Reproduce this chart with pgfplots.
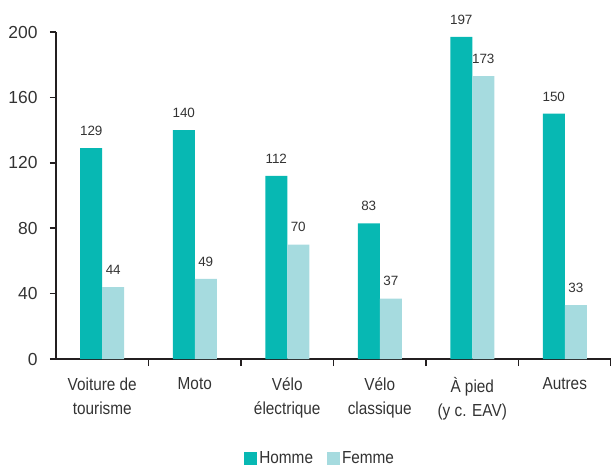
\documentclass[border=0pt]{standalone}
\usepackage{pgfplots}
\pgfplotsset{compat=1.18}
\usetikzlibrary{calc}
\usepackage{fontspec}
\setmainfont{Liberation Sans}[FakeStretch=0.88]
\newfontfamily\numfont{Liberation Sans}
\definecolor{homme}{HTML}{07B8B3}
\definecolor{femme}{HTML}{A6DBDF}
\definecolor{axc}{HTML}{231F20}
\definecolor{txt}{HTML}{333333}
\begin{document}
\begin{tikzpicture}
\begin{axis}[name=ax, scale only axis, width=555bp, height=327bp,
  xmin=-0.5, xmax=5.5, ymin=0, ymax=200,
  clip=false,
  axis x line*=bottom, axis y line*=left,
  axis line style={axc, line width=1.8bp, -},
  ybar=0pt, bar width=22bp,
  xtick={0,...,5},
  xticklabels={{Voiture de\\tourisme},{Moto},{Vélo\\électrique},{Vélo\\classique},{À pied\\(y c. EAV)},{Autres}},
  major x tick style={draw=none},
  minor xtick={0.5,1.5,...,5.5},
  ytick={0,40,...,200},
  tick align=outside, major tick length=6bp, minor tick length=7bp,
  tick style={axc, line width=1.6bp},
  /pgf/number format/assume math mode=true,
  ticklabel style={font=\fontsize{17.5}{24}\selectfont, text=txt},
  xticklabel style={align=center, yshift=-9bp},
  yticklabel style={xshift=-9bp, font=\numfont\fontsize{17.5}{20}\selectfont},
  nodes near coords,
  every node near coord/.append style={font=\numfont\fontsize{13.5}{16}\selectfont, text=txt, yshift=9bp},
  legend columns=2,
  legend style={draw=none, at={(0.476,-0.303)}, anchor=center, font=\fontsize{17.5}{19}\selectfont, text=txt,
    /tikz/every even column/.append style={column sep=12bp}},
  legend image code/.code={\path[#1, draw=none] (0bp,-6.5bp) rectangle (13bp,6.5bp);},
]
\addplot[fill=homme, draw=none] coordinates {(0,129) (1,140) (2,112) (3,83) (4,197) (5,150)};
\addplot[fill=femme, draw=none] coordinates {(0,44) (1,49) (2,70) (3,37) (4,173) (5,33)};
\legend{Homme, Femme}
\end{axis}
\pgfresetboundingbox
\path[use as bounding box] ($(ax.south west)+(-56bp,-109bp)$) rectangle ($(ax.north east)+(0bp,32bp)$);
\end{tikzpicture}
\end{document}
